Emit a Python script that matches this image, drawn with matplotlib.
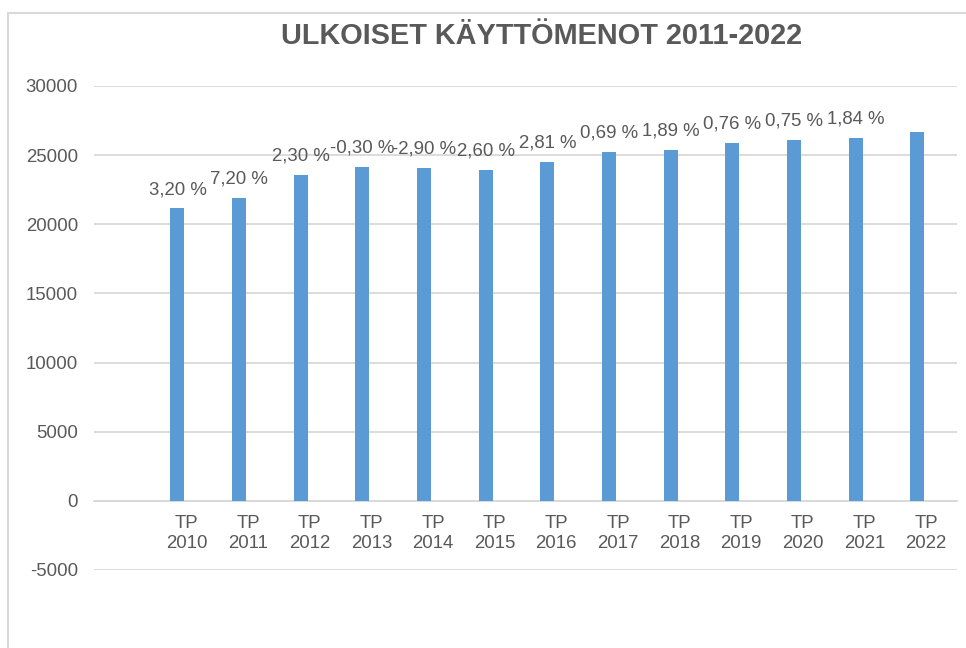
import matplotlib.pyplot as plt
from matplotlib.patches import Rectangle

# data
categories = ["", "TP\n2010", "TP\n2011", "TP\n2012", "TP\n2013", "TP\n2014", "TP\n2015",
              "TP\n2016", "TP\n2017", "TP\n2018", "TP\n2019", "TP\n2020", "TP\n2021", "TP\n2022"]
spending = [None, 21150, 21900, 23550, 24130, 24060, 23910,
            24490, 25220, 25360, 25870, 26090, 26230, 26670]
change_labels = ["3,20 %", "7,20 %", "2,30 %", "-0,30 %", "-2,90 %", "2,60 %",
                 "2,81 %", "0,69 %", "1,89 %", "0,76 %", "0,75 %", "1,84 %", ""]
yticks = [-5000, 0, 5000, 10000, 15000, 20000, 25000, 30000]

plt.rcParams['font.family'] = ['Liberation Sans', 'DejaVu Sans']
text_col = '#595959'
grid_col = '#d9d9d9'
bar_col = '#5b9bd5'

W, H = 966, 648
fig = plt.figure(figsize=(W / 100, H / 100), dpi=100)

# chart area border (runs off the right and bottom of the image)
fig.patches.append(Rectangle((8 / W, -0.1), 1.2, 1 - 13 / H + 0.1, transform=fig.transFigure,
                             fill=False, edgecolor=grid_col, linewidth=1.5))

ax = fig.add_axes([94 / W, (H - 570) / H, (957 - 94) / W, (570 - 86) / H])

xs = [i for i, v in enumerate(spending) if v is not None]
vals = [v for v in spending if v is not None]
offset = -9 / 61.67
bars = ax.bar([x + offset for x in xs], vals, width=14 / 61.67, color=bar_col, zorder=3)

for b, lab in zip(bars, change_labels):
    if lab:
        ax.annotate(lab, (b.get_x() + b.get_width() / 2, b.get_height()),
                    xytext=(0, 13.5), textcoords='offset points', ha='center', va='center',
                    fontsize=13.4, color=text_col)

ax.set_xlim(-0.5, len(categories) - 0.5)
ax.set_ylim(-5000, 30000)
ax.set_yticks(yticks)
ax.set_yticklabels([str(t) for t in yticks])
ax.grid(axis='y', color=grid_col, linewidth=1.3, zorder=0)
ax.set_xticks(range(len(categories)))
ax.set_xticklabels(categories, linespacing=1.1)

for s in ['top', 'right', 'left']:
    ax.spines[s].set_visible(False)
ax.spines['bottom'].set_position(('data', 0))
ax.spines['bottom'].set_color(grid_col)
ax.spines['bottom'].set_linewidth(1.3)
ax.tick_params(axis='both', length=0, labelsize=13.4, labelcolor=text_col)
ax.tick_params(axis='y', pad=11.5)
ax.tick_params(axis='x', pad=10.5)

fig.text(542 / W, 1 - 36 / H, "ULKOISET KÄYTTÖMENOT 2011-2022", ha='center', va='center',
         fontsize=20.8, fontweight='bold', color=text_col)

fig.savefig('out.png', dpi=100)
